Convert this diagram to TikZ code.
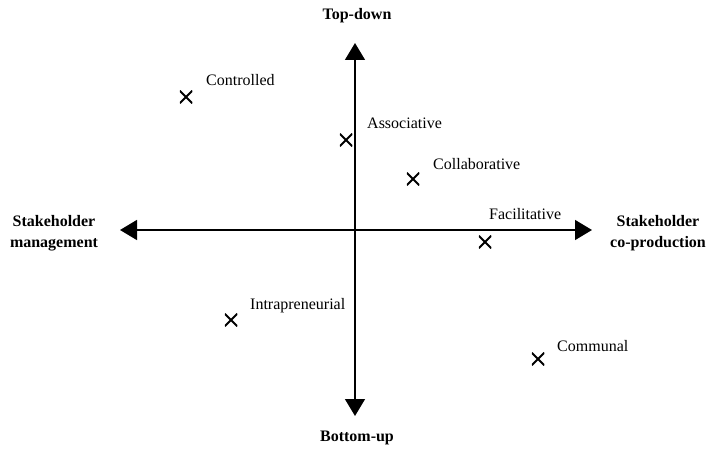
\documentclass[tikz,border=0pt]{standalone}
\usepackage{fontspec}
\setmainfont{Liberation Serif}
\usetikzlibrary{arrows.meta}
\begin{document}
\begin{tikzpicture}[x=1pt,y=-1pt,
  axis/.style={line width=1.3pt,-{Triangle[length=17pt,width=20pt]}},
  axlabel/.style={font=\fontsize{16}{20.5}\selectfont\bfseries,align=center,inner sep=0pt},
  ptlabel/.style={font=\fontsize{16}{18}\selectfont,anchor=west,inner sep=0pt},
  cross/.style={minimum size=12.5pt,inner sep=0pt,path picture={\draw[line width=2pt] (path picture bounding box.north west)--(path picture bounding box.south east) (path picture bounding box.north east)--(path picture bounding box.south west);}}]
\useasboundingbox (0,0) rectangle (707,457);
\coordinate (O) at (355,230);
\coordinate (T) at (355,43);
\coordinate (B) at (355,416);
\coordinate (L) at (120,230);
\coordinate (R) at (592,230);
\draw[axis] (O) -- (T);
\draw[axis] (O) -- (B);
\draw[axis] (O) -- (L);
\draw[axis] (O) -- (R);
\node[axlabel] (top) at (357,16) {Top-down};
\node[axlabel] (bot) at (357,438) {Bottom-up};
\node[axlabel] (lft) at (54,233) {Stakeholder\\management};
\node[axlabel] (rgt) at (658,233) {Stakeholder\\co-production};
\node[cross] (c1) at (186,97) {};
\node[ptlabel] (l1) at (206,80) {Controlled};
\node[cross] (c2) at (346,140) {};
\node[ptlabel] (l2) at (367,123) {Associative};
\node[cross] (c3) at (413,179) {};
\node[ptlabel] (l3) at (433,164) {Collaborative};
\node[cross] (c4) at (485,242) {};
\node[ptlabel] (l4) at (489,214) {Facilitative};
\node[cross] (c5) at (231,320) {};
\node[ptlabel] (l5) at (250,306) {Intrapreneurial};
\node[cross] (c6) at (538,359) {};
\node[ptlabel] (l6) at (557,346) {Communal};
\end{tikzpicture}
\end{document}
